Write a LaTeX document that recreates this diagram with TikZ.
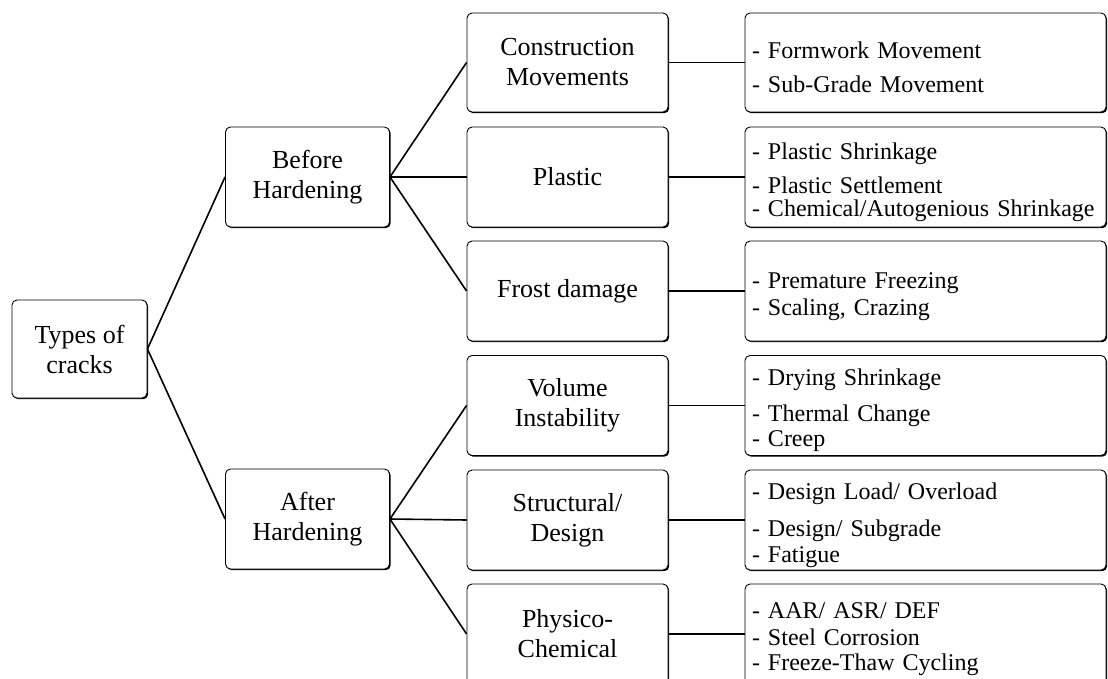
\documentclass[tikz,border=0pt]{standalone}
\usepackage{fontspec}
\setmainfont{Liberation Serif}
\usetikzlibrary{shadows}

\begin{document}
\begin{tikzpicture}[x=1pt,y=-1pt,
		crackbox/.style={draw=black,line width=0.9pt,fill=white,rounded corners=5pt,
			drop shadow={shadow xshift=1.2pt,shadow yshift=-1.2pt,opacity=1,fill=black},
			inner sep=2pt,align=center,font=\fontsize{26}{30}\selectfont},
		listbox/.style={crackbox,align=left,inner xsep=7pt,text width=347pt,
			minimum height=100pt,font=\fontsize{24}{23}\selectfont\hyphenpenalty10000\relax,
			execute at begin node=\rule{0pt}{27pt}},
		link/.style={line width=1.6pt}]
		\useasboundingbox (0,0) rectangle (1108,679);
		\clip (0,0) rectangle (1108,679);
		\node[crackbox,minimum width=135pt,minimum height=98pt] (types) at (79.5,349) {Types of\\cracks};
		\node[crackbox,minimum width=164pt,minimum height=100pt] (before) at (307.5,177) {Before\\Hardening};
		\node[crackbox,minimum width=164pt,minimum height=100pt] (after) at (307.5,519) {After\\Hardening};
		\node[crackbox,minimum width=201pt,minimum height=99pt] (constr) at (567.5,62.5) {Construction\\Movements};
		\node[crackbox,minimum width=201pt,minimum height=100pt] (plastic) at (567.5,177) {Plastic};
		\node[crackbox,minimum width=201pt,minimum height=100pt] (frost) at (567.5,291) {Frost damage};
		\node[crackbox,minimum width=201pt,minimum height=100pt] (volume) at (567.5,405.5) {Volume\\Instability};
		\node[crackbox,minimum width=201pt,minimum height=100pt] (struct) at (567.5,520) {Structural/\\Design};
		\node[crackbox,minimum width=201pt,minimum height=100pt] (physico) at (567.5,634) {Physico-\\Chemical};
		\node[listbox,minimum height=99pt] (constrlist) at (925.5,62.5) {- Formwork Movement\\[11pt]- Sub-Grade Movement};
		\node[listbox] (plasticlist) at (925.5,177) {- Plastic Shrinkage\\[11pt]- Plastic Settlement\\- Chemical/Autogenious Shrinkage};
		\node[listbox] (frostlist) at (925.5,291) {- Premature Freezing\\[4pt]- Scaling, Crazing};
		\node[listbox] (volumelist) at (925.5,405.5) {- Drying Shrinkage\\[13pt]- Thermal Change\\[2pt]- Creep};
		\node[listbox] (structlist) at (925.5,520) {- Design Load/ Overload\\[14pt]- Design/ Subgrade\\[3pt]- Fatigue};
		\node[listbox] (physicolist) at (925.5,634) {- AAR/ ASR/ DEF\\[4pt]- Steel Corrosion\\[2pt]- Freeze-Thaw Cycling};
		\draw[link] (types.east) -- (before.west);
		\draw[link] (types.east) -- (after.west);
		\draw[link] (before.east) -- (constr.west);
		\draw[link] (before.east) -- (plastic.west);
		\draw[link] (before.east) -- (frost.west);
		\draw[link] (after.east) -- (volume.west);
		\draw[link] (after.east) -- (struct.west);
		\draw[link] (after.east) -- (physico.west);
		\draw[link] (constr.east) -- (constrlist.west);
		\draw[link] (plastic.east) -- (plasticlist.west);
		\draw[link] (frost.east) -- (frostlist.west);
		\draw[link] (volume.east) -- (volumelist.west);
		\draw[link] (struct.east) -- (structlist.west);
		\draw[link] (physico.east) -- (physicolist.west);
	\end{tikzpicture}
\end{document}
